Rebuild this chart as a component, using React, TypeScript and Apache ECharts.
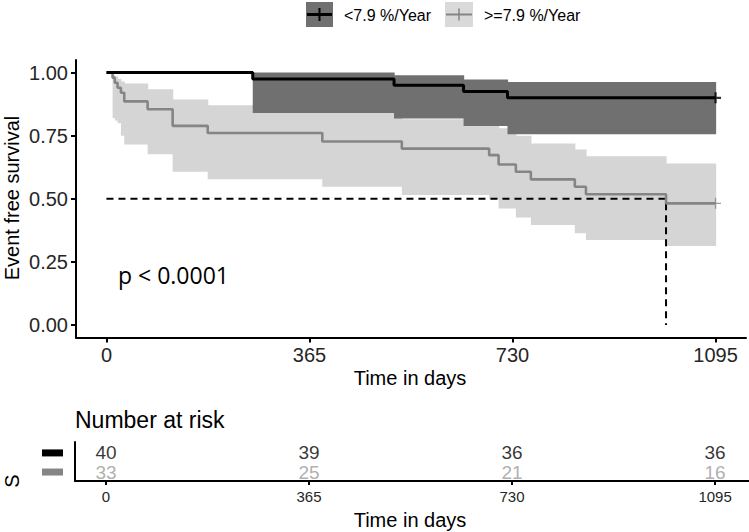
import React, { useEffect, useRef } from 'react';
import * as echarts from 'echarts';

// ---- data ----
const xTicks = [0, 365, 730, 1095];
const yTicks = [0, 0.25, 0.5, 0.75, 1];

const groupNames = ['<7.9 %/Year', '>=7.9 %/Year'];

// <7.9 %/Year (black)
const lowTimes = [0, 263, 517, 642, 721, 1095];
const lowSurv = [1, 0.975, 0.95, 0.925, 0.9, 0.9];
const lowUpper = [1, 1.0, 0.99, 0.973, 0.963, 0.963];
const lowLower = [1, 0.84, 0.818, 0.788, 0.756, 0.756];

// >=7.9 %/Year (grey)
const highTimes = [0, 11, 15, 20, 26, 32, 74, 119, 182, 388, 531, 688, 705, 736, 763, 842, 862, 1006, 1095];
const highSurv = [1, 0.98, 0.96, 0.94, 0.92, 0.886, 0.855, 0.789, 0.761, 0.727, 0.699, 0.673, 0.636, 0.607, 0.577, 0.548, 0.518, 0.482, 0.482];
const highUpper = [1, 0.99, 0.985, 0.975, 0.965, 0.957, 0.934, 0.893, 0.871, 0.84, 0.815, 0.8, 0.78, 0.75, 0.719, 0.695, 0.669, 0.64, 0.64];
const highLower = [1, 0.82, 0.81, 0.8, 0.75, 0.715, 0.677, 0.607, 0.577, 0.548, 0.515, 0.498, 0.462, 0.426, 0.396, 0.363, 0.337, 0.313, 0.313];

// Number at risk
const riskTimes = [0, 365, 730, 1095];
const riskLow = [40, 39, 36, 36];
const riskHigh = [33, 25, 21, 16];

const pText = 'p < 0.0001';

// ---- styles ----
const FONT = '"Liberation Sans", Arial, sans-serif';
const C_BLACK = '#000000';
const C_GREY = '#858585';
const C_GREY_TXT = '#9a9a9a';
const C_BAND_DARK = '#707070';
const C_BAND_LIGHT = '#d5d5d5';
const C_TICK_TXT = '#262626';

const ROW_LOW = 0.72;
const ROW_HIGH = 0.23;

function bandSeries(times: number[], lo: number[], hi: number[], color: string) {
  const data: number[][] = [];
  for (let i = 0; i < times.length - 1; i++) data.push([times[i], times[i + 1], lo[i], hi[i]]);
  return {
    type: 'custom',
    xAxisIndex: 0,
    yAxisIndex: 0,
    silent: true,
    encode: { x: [0, 1], y: [2, 3] },
    data,
    renderItem: (_p: any, api: any) => {
      const a = api.coord([api.value(0), api.value(3)]);
      const b = api.coord([api.value(1), api.value(2)]);
      return {
        type: 'rect',
        shape: { x: a[0], y: a[1], width: b[0] - a[0] + 0.6, height: b[1] - a[1] },
        style: { fill: color },
      };
    },
  };
}

const plusThick = 'path://M4,0 H6 V4 H10 V6 H6 V10 H4 V6 H0 V4 H4 Z';
const plusThin = 'path://M4.4,0 H5.6 V4.4 H10 V5.6 H5.6 V10 H4.4 V5.6 H0 V4.4 H4.4 Z';

function buildOption() {
  const medianIdx = highSurv.findIndex((s) => s <= 0.5);
  const medianT = highTimes[medianIdx];
  const lastLow = lowTimes.length - 1;
  const lastHigh = highTimes.length - 1;
  const plain = (v: number) => String(v);

  return {
    animation: false,
    backgroundColor: '#ffffff',
    textStyle: { fontFamily: FONT },
    grid: [
      { left: 76, top: 60, width: 670, height: 277.6, outerBoundsMode: 'none', containLabel: false },
      { left: 75, top: 442, width: 674, height: 39, outerBoundsMode: 'none', containLabel: false },
    ],
    xAxis: [
      {
        type: 'value', gridIndex: 0, min: -54.75, max: 1149.75,
        axisLine: { show: true, onZero: false, lineStyle: { color: '#000', width: 2 } },
        axisTick: { show: true, customValues: xTicks, length: 5, lineStyle: { color: '#000', width: 2 } },
        axisLabel: { show: true, customValues: xTicks, fontSize: 20, margin: 7, color: C_TICK_TXT, fontFamily: FONT, formatter: plain },
        splitLine: { show: false },
      },
      {
        type: 'value', gridIndex: 1, min: -55.7, max: 1156,
        axisLine: { show: true, onZero: false, lineStyle: { color: '#000', width: 2 } },
        axisTick: { show: true, customValues: riskTimes, length: 4, lineStyle: { color: '#000', width: 2 } },
        axisLabel: { show: true, customValues: riskTimes, fontSize: 15, margin: 8, color: C_TICK_TXT, fontFamily: FONT, formatter: plain },
        splitLine: { show: false },
      },
    ],
    yAxis: [
      {
        type: 'value', gridIndex: 0, min: -0.05, max: 1.05,
        axisLine: { show: true, onZero: false, lineStyle: { color: '#000', width: 2 } },
        axisTick: { show: true, customValues: yTicks, length: 5, lineStyle: { color: '#000', width: 2 } },
        axisLabel: {
          show: true, customValues: yTicks, fontSize: 20, margin: 8, color: C_TICK_TXT, fontFamily: FONT,
          formatter: (v: number) => v.toFixed(2),
        },
        splitLine: { show: false },
      },
      {
        type: 'value', gridIndex: 1, min: 0, max: 1,
        axisLine: { show: true, onZero: false, lineStyle: { color: '#000', width: 2 } },
        axisTick: { show: false },
        axisLabel: {
          show: true, customValues: [ROW_HIGH, ROW_LOW], margin: 12,
          formatter: (v: number) => (v > 0.5 ? '{k|}' : '{g|}'),
          rich: {
            k: { width: 21, height: 7, backgroundColor: C_BLACK },
            g: { width: 21, height: 7, backgroundColor: C_GREY },
          },
        },
        splitLine: { show: false },
      },
    ],
    series: [
      bandSeries(highTimes, highLower, highUpper, C_BAND_LIGHT),
      bandSeries(lowTimes, lowLower, lowUpper, C_BAND_DARK),
      {
        type: 'line', xAxisIndex: 0, yAxisIndex: 0, silent: true, symbol: 'none',
        data: [[0, 0.5], [medianT, 0.5], [medianT, 0]],
        lineStyle: { color: '#000', width: 2, type: [7, 5] },
      },
      {
        name: groupNames[1], type: 'line', step: 'end', xAxisIndex: 0, yAxisIndex: 0, silent: true, symbol: 'none',
        data: highTimes.map((t, i) => [t, highSurv[i]]),
        lineStyle: { color: C_GREY, width: 2.6 },
      },
      {
        name: groupNames[0], type: 'line', step: 'end', xAxisIndex: 0, yAxisIndex: 0, silent: true, symbol: 'none',
        data: lowTimes.map((t, i) => [t, lowSurv[i]]),
        lineStyle: { color: C_BLACK, width: 3 },
      },
      {
        type: 'scatter', xAxisIndex: 0, yAxisIndex: 0, silent: true,
        symbol: plusThin, symbolSize: 11,
        itemStyle: { color: C_GREY },
        data: [[highTimes[lastHigh], highSurv[lastHigh]]],
      },
      {
        type: 'scatter', xAxisIndex: 0, yAxisIndex: 0, silent: true,
        symbol: plusThick, symbolSize: 11,
        itemStyle: { color: C_BLACK },
        data: [[lowTimes[lastLow], lowSurv[lastLow]]],
      },
      {
        type: 'scatter', xAxisIndex: 1, yAxisIndex: 1, silent: true,
        symbolSize: 1, itemStyle: { color: 'rgba(0,0,0,0)' },
        data: riskTimes.map((t, i) => [t, ROW_LOW, riskLow[i]]),
        label: {
          show: true, position: 'inside', formatter: (p: any) => String(p.value[2]),
          fontSize: 19, color: C_BLACK, fontFamily: FONT,
        },
      },
      {
        type: 'scatter', xAxisIndex: 1, yAxisIndex: 1, silent: true,
        symbolSize: 1, itemStyle: { color: 'rgba(0,0,0,0)' },
        data: riskTimes.map((t, i) => [t, ROW_HIGH, riskHigh[i]]),
        label: {
          show: true, position: 'inside', formatter: (p: any) => String(p.value[2]),
          fontSize: 19, color: C_GREY_TXT, fontFamily: FONT,
        },
      },
    ],
    graphic: [
      // legend
      { type: 'rect', shape: { x: 306, y: 2, width: 27, height: 25 }, style: { fill: C_BAND_DARK } },
      { type: 'line', shape: { x1: 307, y1: 14.5, x2: 332, y2: 14.5 }, style: { stroke: C_BLACK, lineWidth: 3 } },
      { type: 'line', shape: { x1: 319.5, y1: 8, x2: 319.5, y2: 21 }, style: { stroke: C_BLACK, lineWidth: 2 } },
      { type: 'text', x: 344, y: 15, style: { text: groupNames[0], fontSize: 16, fontFamily: FONT, fill: '#000', align: 'left', verticalAlign: 'middle' } },
      { type: 'rect', shape: { x: 445, y: 2, width: 28, height: 25 }, style: { fill: '#d9d9d9' } },
      { type: 'line', shape: { x1: 446, y1: 14.5, x2: 472, y2: 14.5 }, style: { stroke: C_GREY, lineWidth: 2 } },
      { type: 'line', shape: { x1: 459, y1: 8.5, x2: 459, y2: 20.5 }, style: { stroke: C_GREY, lineWidth: 1.5 } },
      { type: 'text', x: 484, y: 15, style: { text: groupNames[1], fontSize: 16, fontFamily: FONT, fill: '#000', align: 'left', verticalAlign: 'middle' } },
      // axis titles
      { type: 'text', x: 12, y: 198, rotation: Math.PI / 2, style: { text: 'Event free survival', fontSize: 20, fontFamily: FONT, fill: '#000', align: 'center', verticalAlign: 'middle' } },
      { type: 'text', x: 410, y: 378, style: { text: 'Time in days', fontSize: 20, fontFamily: FONT, fill: '#000', align: 'center', verticalAlign: 'middle' } },
      // p value
      { type: 'text', x: 118, y: 275, style: { text: pText, fontSize: 23, fontFamily: '"Open Sans", sans-serif', fill: '#000', align: 'left', verticalAlign: 'middle' } },
      // risk table
      { type: 'text', x: 75, y: 420, style: { text: 'Number at risk', fontSize: 23, fontFamily: FONT, fill: '#000', align: 'left', verticalAlign: 'middle' } },
      { type: 'text', x: 12, y: 481, rotation: Math.PI / 2, style: { text: 'S', fontSize: 20, fontFamily: FONT, fill: '#000', align: 'center', verticalAlign: 'middle' } },
      { type: 'text', x: 410, y: 520, style: { text: 'Time in days', fontSize: 20, fontFamily: FONT, fill: '#000', align: 'center', verticalAlign: 'middle' } },
    ],
  };
}

export default function App() {
  const ref = useRef<HTMLDivElement>(null);
  useEffect(() => {
    if (!ref.current) return;
    const chart = echarts.init(ref.current, null, { renderer: 'svg' });
    chart.setOption(buildOption() as any);
    return () => chart.dispose();
  }, []);
  return (
    <div
      ref={ref}
      style={{ position: 'fixed', left: 0, top: 0, width: 749, height: 532, background: '#fff' }}
    />
  );
}
